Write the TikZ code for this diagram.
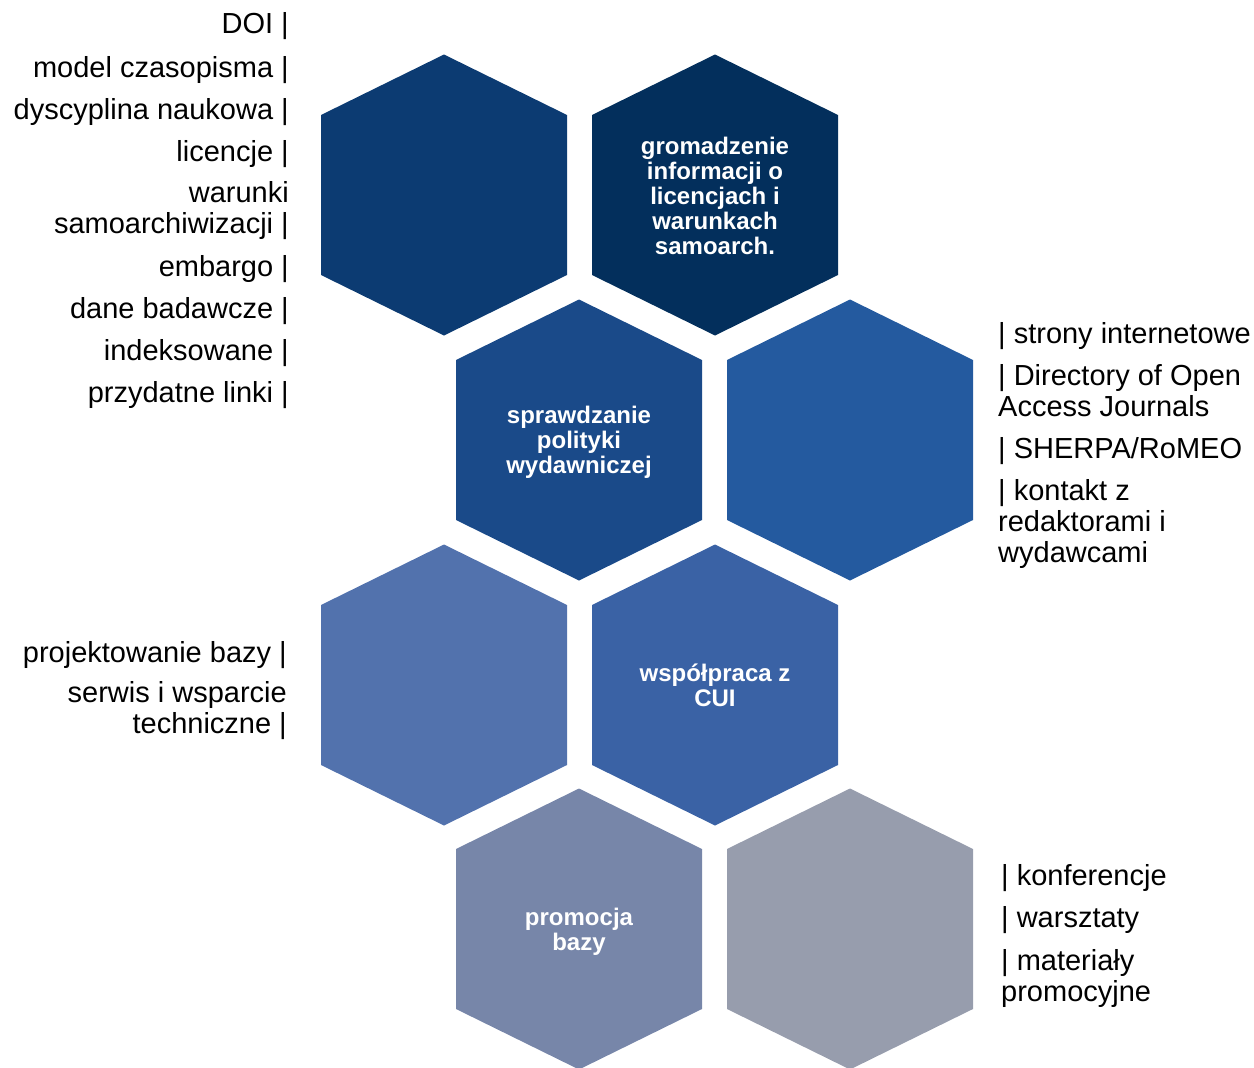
\documentclass[tikz,border=0pt]{standalone}
\usepackage{fontspec}
\setmainfont{Liberation Sans}
\definecolor{hA}{HTML}{0C3B72}
\definecolor{hB}{HTML}{032F5C}
\definecolor{hC}{HTML}{1A4A89}
\definecolor{hD}{HTML}{245A9F}
\definecolor{hE}{HTML}{5272AD}
\definecolor{hF}{HTML}{3A62A5}
\definecolor{hG}{HTML}{7786A9}
\definecolor{hH}{HTML}{979DAD}
\newcommand\hexfill[3]{\fill[#3] (#1,#2) +(0,-140.5) -- +(123,-80) -- +(123,80) -- +(0,140.5) -- +(-123,80) -- +(-123,-80) -- cycle;}
\tikzset{
  hextext/.style={text=white, align=center, inner sep=0pt, font=\bfseries\fontsize{24}{25}\selectfont},
  lbl/.style={text=black, inner sep=0pt, font=\fontsize{29}{31}\selectfont},
  lblL/.style={lbl, anchor=base east},
  lblLm/.style={lbl, anchor=east, align=right},
  lblR/.style={lbl, anchor=base west},
  lblRm/.style={lbl, anchor=west, align=left}
}
\begin{document}
\begin{tikzpicture}[x=1pt,y=-1pt]
\useasboundingbox (0,0) rectangle (1254,1068);
\clip (0,0) rectangle (1254,1068);
% hexagons
\hexfill{444}{195}{hA}
\hexfill{715}{195}{hB}
\hexfill{579}{440}{hC}
\hexfill{850}{440}{hD}
\hexfill{444}{685}{hE}
\hexfill{715}{685}{hF}
\hexfill{579}{929}{hG}
\hexfill{850}{929}{hH}
% hexagon labels
\node[hextext] (t2) at (715,196) {gromadzenie\\informacji o\\licencjach i\\warunkach\\samoarch.};
\node[hextext] (t3) at (579,442) {sprawdzanie\\polityki\\wydawniczej};
\node[hextext] (t6) at (715,685) {współpraca z\\CUI};
\node[hextext] (t7) at (579,932) {promocja\\bazy};
% left upper list
\node[lblL] (a1) at (289,34) {DOI |};
\node[lblL] (a2) at (289,77) {model czasopisma |};
\node[lblL] (a3) at (289,119) {dyscyplina naukowa |};
\node[lblL] (a4) at (289,161) {licencje |};
\node[lblLm] (a5) at (289,211) {warunki\\samoarchiwizacji |};
\node[lblL] (a6) at (289,276) {embargo |};
\node[lblL] (a7) at (289,318) {dane badawcze |};
\node[lblL] (a8) at (289,360) {indeksowane |};
\node[lblL] (a9) at (289,402) {przydatne linki |};
% right middle list
\node[lblR] (b1) at (998,343) {| strony internetowe};
\node[lblRm] (b2) at (998,391) {| Directory of Open\\Access Journals};
\node[lblR] (b3) at (998,458) {| SHERPA/RoMEO};
\node[lblRm] (b4) at (998,524) {| kontakt z\\redaktorami i\\wydawcami};
% left lower list
\node[lblL] (c1) at (287,662) {projektowanie bazy |};
\node[lblLm] (c2) at (287,711) {serwis i wsparcie\\techniczne |};
% right lower list
\node[lblR] (d1) at (1001,885) {| konferencje};
\node[lblR] (d2) at (1001,927) {| warsztaty};
\node[lblRm] (d3) at (1001,978) {| materiały\\promocyjne};
\end{tikzpicture}
\end{document}
